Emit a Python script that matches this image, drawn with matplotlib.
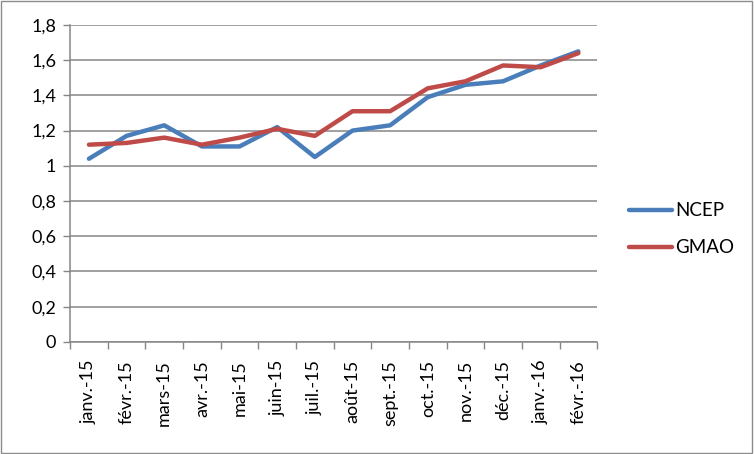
import matplotlib
matplotlib.use("Agg")
import matplotlib.pyplot as plt
from matplotlib.patches import Rectangle
import numpy as np

months = ["janv.-15", "févr.-15", "mars-15", "avr.-15", "mai-15", "juin-15", "juil.-15",
          "août-15", "sept.-15", "oct.-15", "nov.-15", "déc.-15", "janv.-16", "févr.-16"]
ncep = [1.04, 1.17, 1.23, 1.11, 1.11, 1.22, 1.05, 1.20, 1.23, 1.39, 1.46, 1.48, 1.57, 1.65]
gmao = [1.12, 1.13, 1.16, 1.12, 1.16, 1.21, 1.17, 1.31, 1.31, 1.44, 1.48, 1.57, 1.56, 1.64]
yticks = [0, 0.2, 0.4, 0.6, 0.8, 1, 1.2, 1.4, 1.6, 1.8]
ytick_labels = ["0", "0,2", "0,4", "0,6", "0,8", "1", "1,2", "1,4", "1,6", "1,8"]

plt.rcParams['font.family'] = ['Lato', 'DejaVu Sans']

fig = plt.figure(figsize=(7.54, 4.54), dpi=100)
ax = fig.add_axes([0.093, 0.247, 0.699, 0.698])

x = np.arange(len(months))
ax.plot(x, ncep, color="#4A7EBB", lw=3.2, label="NCEP", solid_capstyle="round", solid_joinstyle="round")
ax.plot(x, gmao, color="#BE4B48", lw=3.2, label="GMAO", solid_capstyle="round", solid_joinstyle="round")

ax.set_xlim(-0.5, len(months) - 0.5)
ax.set_ylim(0, 1.8)
ax.set_yticks(yticks)
ax.set_yticklabels(ytick_labels, fontsize=13)
ax.set_xticks(x)
ax.set_xticklabels(months, rotation=90, fontsize=13)
ax.set_xticks(np.arange(-0.5, len(months) + 0.5, 1), minor=True)
ax.tick_params(axis="x", which="major", length=0, pad=13)
ax.tick_params(axis="x", which="minor", length=5, color="#868686", width=1)
ax.tick_params(axis="y", length=5, color="#868686", width=1, pad=5)

ax.grid(axis="y", color="#868686", lw=1.1)
ax.set_axisbelow(True)
for s in ["top", "right"]:
    ax.spines[s].set_visible(False)
for s in ["left", "bottom"]:
    ax.spines[s].set_color("#868686")
    ax.spines[s].set_linewidth(1.1)

leg = fig.legend(loc="center left", bbox_to_anchor=(0.812, 0.495), frameon=False,
                 fontsize=13.5, handlelength=2.3, handletextpad=0.15, labelspacing=1.05)

fig.patches.append(Rectangle((0.001, 0.002), 0.997, 0.995, transform=fig.transFigure,
                             fill=False, edgecolor="#8c8c8c", lw=1))

fig.savefig("out.png", dpi=100)
